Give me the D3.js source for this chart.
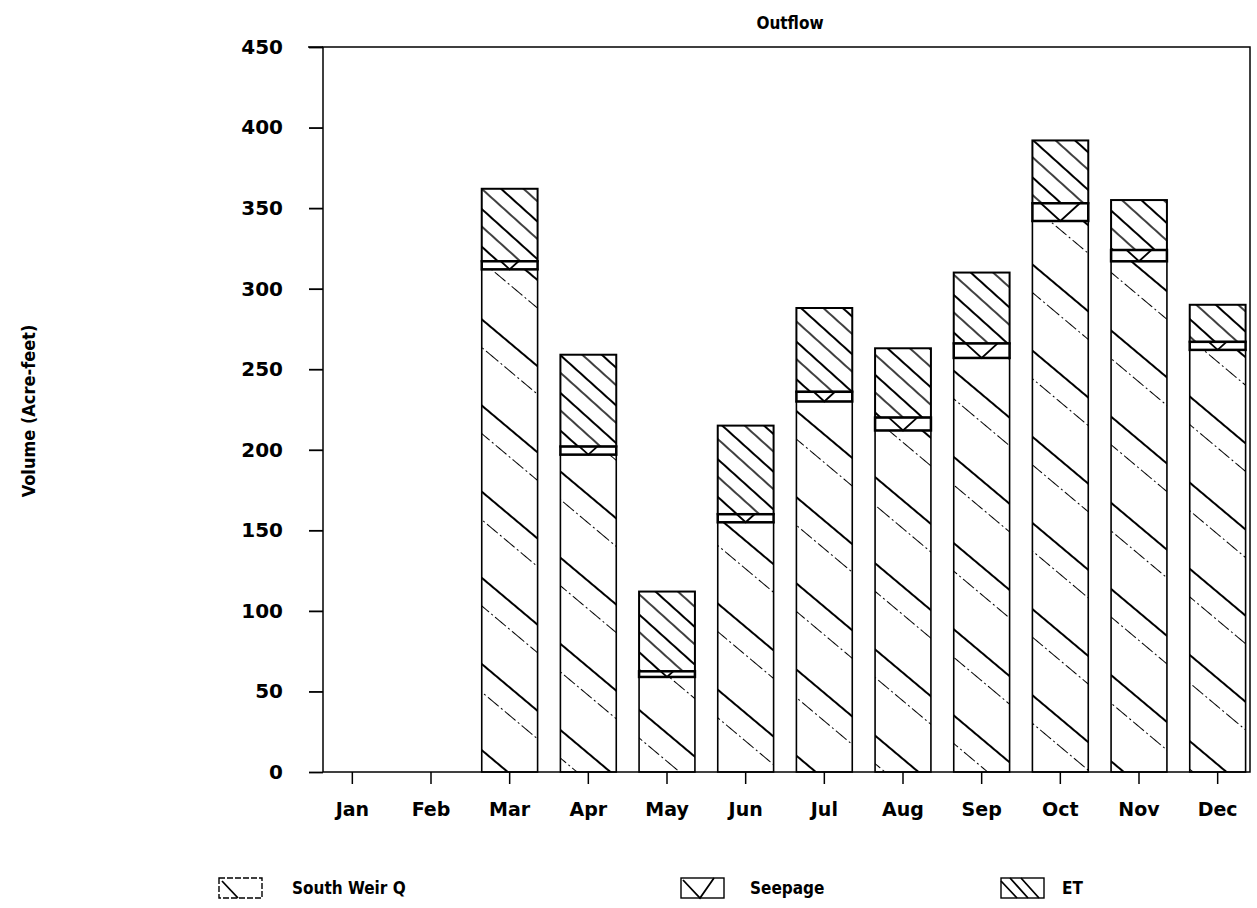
<!DOCTYPE html>
<html>
<head>
<meta charset="utf-8">
<script src="https://cdn.jsdelivr.net/npm/d3@7"></script>
<style>
  body { margin: 0; background: #fff; }
  text { font-family: "DejaVu Sans", sans-serif; font-weight: bold; fill: #000; }
  .cond { font-family: "DejaVu Sans Condensed", "DejaVu Sans", sans-serif; font-stretch: condensed; }
</style>
</head>
<body>
<svg id="chart" width="1257" height="908"></svg>
<script>
// data (acre-feet)
const months = ["Jan", "Feb", "Mar", "Apr", "May", "Jun", "Jul", "Aug", "Sep", "Oct", "Nov", "Dec"];
const southWeirQ = [0, 0, 312, 197, 59, 155, 230, 212, 257, 342, 317, 262];
const seepage = [0, 0, 5, 5, 3.5, 5, 6, 8, 9, 11, 7, 5];
const et = [0, 0, 45, 57, 49.5, 55, 52, 43, 44, 39, 31, 23];
const yTicks = [0, 50, 100, 150, 200, 250, 300, 350, 400, 450];
const seriesNames = ["South Weir Q", "Seepage", "ET"];

const svg = d3.select("#chart");

// plot frame
const plotLeft = 323, plotRight = 1250, plotTop = 47, plotBottom = 772;

const x = d3.scaleBand()
  .domain(months)
  .range([313, 1257])
  .paddingInner(0.29)
  .paddingOuter(0.145);

const y = d3.scaleLinear()
  .domain([0, 450])
  .range([plotBottom, plotTop]);

// hatch patterns
const defs = svg.append("defs");

const swq = defs.append("pattern")
  .attr("id", "swq")
  .attr("patternUnits", "userSpaceOnUse")
  .attr("width", 200)
  .attr("height", 66)
  .attr("patternTransform", "rotate(40)");
swq.append("line")
  .attr("x1", 0).attr("x2", 200).attr("y1", 1).attr("y2", 1)
  .attr("stroke", "#000").attr("stroke-width", 2.2);
swq.append("line")
  .attr("x1", 0).attr("x2", 200).attr("y1", 22.5).attr("y2", 22.5)
  .attr("stroke", "#000").attr("stroke-width", 1.2)
  .attr("stroke-dasharray", "14 3 2 3");

const etPat = defs.append("pattern")
  .attr("id", "etpat")
  .attr("patternUnits", "userSpaceOnUse")
  .attr("width", 200)
  .attr("height", 28)
  .attr("patternTransform", "rotate(42)");
etPat.append("line")
  .attr("x1", 0).attr("x2", 200).attr("y1", 1).attr("y2", 1)
  .attr("stroke", "#000").attr("stroke-width", 2.2);
etPat.append("line")
  .attr("x1", 0).attr("x2", 200).attr("y1", 14).attr("y2", 14)
  .attr("stroke", "#000").attr("stroke-width", 1.4);

// stacked bars
const rows = months.map((m, i) => ({
  month: m,
  "South Weir Q": southWeirQ[i],
  "Seepage": seepage[i],
  "ET": et[i]
}));
const stacked = d3.stack().keys(seriesNames)(rows);

const bars = svg.append("g");
const bw = x.bandwidth();

// South Weir Q
bars.selectAll(".swq")
  .data(stacked[0].filter(d => d[1] > d[0]))
  .join("rect")
  .attr("class", "swq")
  .attr("x", d => x(d.data.month))
  .attr("y", d => y(d[1]))
  .attr("width", bw)
  .attr("height", d => y(d[0]) - y(d[1]))
  .attr("fill", "url(#swq)")
  .attr("stroke", "#000")
  .attr("stroke-width", 1.6);

// ET
bars.selectAll(".et")
  .data(stacked[2].filter(d => d[1] > d[0]))
  .join("rect")
  .attr("class", "et")
  .attr("x", d => x(d.data.month))
  .attr("y", d => y(d[1]))
  .attr("width", bw)
  .attr("height", d => y(d[0]) - y(d[1]))
  .attr("fill", "url(#etpat)")
  .attr("stroke", "#000")
  .attr("stroke-width", 2);

// Seepage: thin band with a V inside
const seep = bars.selectAll(".seep")
  .data(stacked[1].filter(d => d[1] > d[0]))
  .join("g")
  .attr("class", "seep");
seep.append("rect")
  .attr("x", d => x(d.data.month))
  .attr("y", d => y(d[1]))
  .attr("width", bw)
  .attr("height", d => y(d[0]) - y(d[1]))
  .attr("fill", "#fff")
  .attr("stroke", "#000")
  .attr("stroke-width", 2.5);
seep.append("path")
  .attr("d", d => {
    const x0 = x(d.data.month);
    const h = y(d[0]) - y(d[1]);
    const dx = Math.max(5, h * 1.1);
    return `M${x0 + bw / 2 - dx},${y(d[1])} L${x0 + bw / 2},${y(d[0])} L${x0 + bw / 2 + dx},${y(d[1])}`;
  })
  .attr("fill", "none")
  .attr("stroke", "#000")
  .attr("stroke-width", 1.8);

// frame
svg.append("rect")
  .attr("x", plotLeft)
  .attr("y", plotTop)
  .attr("width", plotRight - plotLeft)
  .attr("height", plotBottom - plotTop)
  .attr("fill", "none")
  .attr("stroke", "#000")
  .attr("stroke-width", 1.5);
svg.append("line")
  .attr("x1", 308).attr("x2", plotLeft)
  .attr("y1", plotTop).attr("y2", plotTop)
  .attr("stroke", "#000").attr("stroke-width", 1.5);

// y axis
const yAxis = svg.append("g")
  .attr("transform", `translate(${plotLeft},0)`)
  .call(d3.axisLeft(y).tickValues(yTicks).tickSize(14).tickPadding(26));
yAxis.select(".domain").remove();
yAxis.selectAll("line").attr("stroke", "#000").attr("stroke-width", 1.8);
yAxis.selectAll("text")
  .style("font-family", "'DejaVu Sans', sans-serif")
  .style("font-weight", "bold")
  .style("font-size", "20px");

// x axis
const xAxis = svg.append("g")
  .attr("transform", `translate(0,${plotBottom})`)
  .call(d3.axisBottom(x).tickSize(12).tickPadding(19));
xAxis.select(".domain").remove();
xAxis.selectAll("line").attr("stroke", "#000").attr("stroke-width", 1.5);
xAxis.selectAll("text")
  .style("font-family", "'DejaVu Sans', sans-serif")
  .style("font-weight", "bold")
  .style("font-size", "19px");

// titles
svg.append("text")
  .attr("class", "cond")
  .attr("x", 790)
  .attr("y", 29)
  .attr("text-anchor", "middle")
  .style("font-size", "17px")
  .text("Outflow");

svg.append("text")
  .attr("class", "cond")
  .attr("transform", "translate(35,411) rotate(-90)")
  .attr("text-anchor", "middle")
  .style("font-size", "18px")
  .text("Volume (Acre-feet)");

// legend
const legendX = [219, 681, 1001];
const legend = svg.selectAll(".legend")
  .data(seriesNames)
  .join("g")
  .attr("class", "legend")
  .attr("transform", (d, i) => `translate(${legendX[i]},878)`);

legend.append("rect")
  .attr("width", 43)
  .attr("height", 20)
  .attr("fill", "#fff")
  .attr("stroke", "#000")
  .attr("stroke-width", 1.4)
  .attr("stroke-dasharray", (d, i) => i === 0 ? "6 2" : null);

legend.append("path")
  .attr("d", (d, i) => {
    if (i === 0) return "M3,3 L19,20";
    if (i === 1) return "M2,2 L19,20 L33,0";
    return "M0,3 L16,20 M9,0 L27,20 M20,0 L38,20";
  })
  .attr("fill", "none")
  .attr("stroke", "#000")
  .attr("stroke-width", 1.8);

legend.append("text")
  .attr("class", "cond")
  .attr("x", (d, i) => [73, 69, 61][i])
  .attr("y", 16)
  .style("font-size", "17px")
  .text(d => d);
</script>
</body>
</html>
